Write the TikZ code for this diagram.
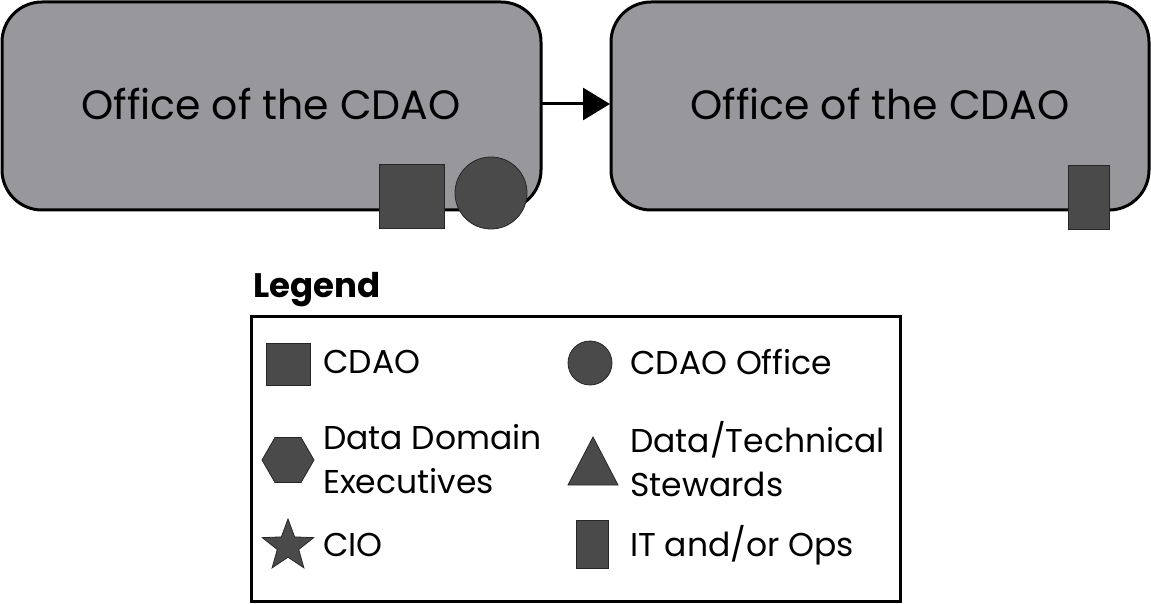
\documentclass[tikz,border=0pt]{standalone}
\usepackage{fontspec}
\setmainfont{Poppins}
\usetikzlibrary{shapes.geometric,arrows.meta}
\definecolor{boxgrey}{HTML}{98989C}
\definecolor{shapegrey}{HTML}{4A4A4A}
\tikzset{
  office/.style={draw=black, line width=3pt, fill=boxgrey, rounded corners=40pt},
  token/.style={draw=black!85, line width=0.8pt, fill=shapegrey},
  lbl/.style={anchor=west, inner sep=0pt, font=\fontsize{33}{44}\selectfont, align=left},
  title/.style={font=\fontsize{41}{48}\selectfont, inner sep=0pt}
}
\begin{document}
\begin{tikzpicture}[x=1pt,y=-1pt]
\useasboundingbox (0,0) rectangle (1151,604);
% boxes
\draw[office] (2,2) rectangle (541,210);
\draw[office] (611,2) rectangle (1149,210);
\node[title] (t1) at (271,104) {Office of the CDAO};
\node[title] (t2) at (880,104) {Office of the CDAO};
\coordinate (a1) at (541,104);
\coordinate (a2) at (610,104);
\draw[line width=3pt, -{Triangle[length=27pt,width=32pt]}] (a1) -- (a2);
% tokens on boxes
\draw[token] (379,164) rectangle (444,228);
\draw[token] (491,193) circle (36);
\draw[token] (1068,165) rectangle (1109,229);
% legend
\node[anchor=west, inner sep=0pt, font=\bfseries\fontsize{34}{40}\selectfont] (lg) at (253,290) {Legend};
\draw[line width=3pt] (251,316) rectangle (900,601);
\draw[token] (266,343) rectangle (310,385);
\node[lbl] (l1) at (323,362) {CDAO};
\draw[token] (590,363) circle (22);
\node[lbl] (l2) at (630,362) {CDAO Office};
\node[token, regular polygon, regular polygon sides=6, minimum size=52pt, inner sep=0pt] (hx) at (288,460) {};
\node[lbl] (l3) at (323,459) {Data Domain\\Executives};
\draw[token] (568,485) -- (593,437) -- (618,485) -- cycle;
\node[lbl] (l4) at (630,459) {Data/Technical\\Stewards};
\node[token, star, star points=5, star point ratio=2.4, minimum size=54pt, inner sep=0pt] (st) at (288,546) {};
\node[lbl] (l5) at (323,545) {CIO};
\draw[token] (576,520) rectangle (608,568);
\node[lbl] (l6) at (630,545) {IT and/or Ops};
\end{tikzpicture}
\end{document}
